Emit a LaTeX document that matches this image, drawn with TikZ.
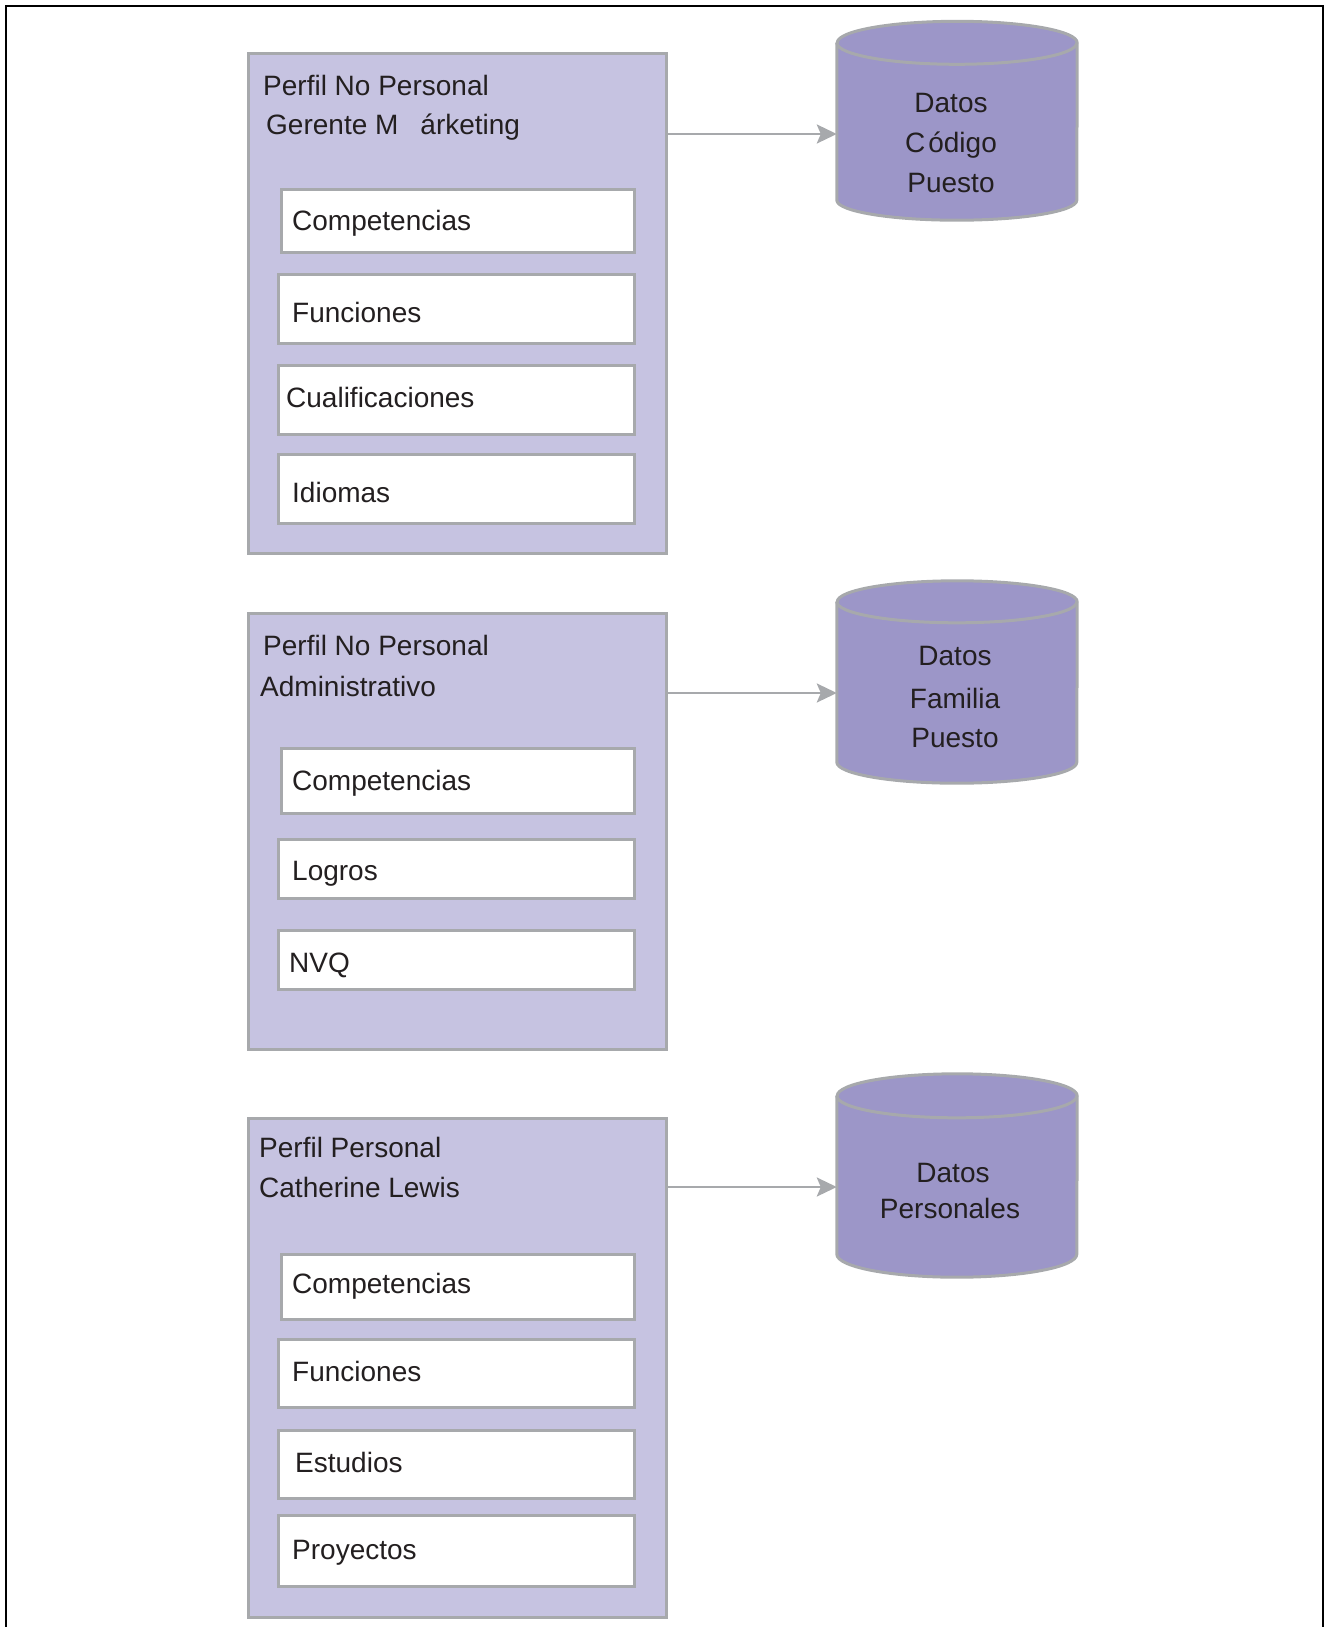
\documentclass[tikz,border=0pt]{standalone}
\usepackage{fontspec}
\setmainfont{Liberation Sans}
\usetikzlibrary{arrows.meta}
\definecolor{panelfill}{HTML}{C6C3E1}
\definecolor{cylfill}{HTML}{9C96C8}
\definecolor{edgegray}{HTML}{A7A9AC}
\definecolor{ink}{HTML}{231F20}
\newcommand\cylpath[3]{%
  \path[fill=cylfill, draw=edgegray, line width=3pt, line join=round]
    (#1.north west) -- (#1.south west)
    arc[start angle=180, end angle=360, x radius=120, y radius=#3]
    -- (#1.north east)
    arc[start angle=0, end angle=180, x radius=120, y radius=#2] -- cycle;
  \draw[edgegray, line width=3pt]
    (#1.north west) arc[start angle=180, end angle=360, x radius=120, y radius=#2];}
\begin{document}
\begin{tikzpicture}[x=1pt, y=1pt,
  panel/.style={draw=edgegray, fill=panelfill, line width=3pt, anchor=north west,
    inner sep=0pt, minimum width=418},
  itembox/.style={draw=edgegray, fill=white, line width=3pt, anchor=north west,
    inner sep=0pt},
  txt/.style={anchor=base west, inner sep=0pt, text=ink, font=\fontsize{28}{34}\selectfont},
  ctxt/.style={anchor=base, inner sep=0pt, text=ink, font=\fontsize{28}{34}\selectfont},
  cylbody/.style={draw=none, inner sep=0pt, minimum width=240},
  arr/.style={draw=edgegray, line width=2.5pt, -{Stealth[length=20pt, width=19pt, inset=4pt]}}]
\useasboundingbox (0,0) rectangle (1332,-1627);
% outer frame
\draw[line width=2.5pt, black, line join=miter] (6,-1627) -- (6,-6) -- (1323,-6) -- (1323,-1627);

% ---------- panel 1
\node[panel, minimum height=500] (p1) at (246.5,-52) {};
\node[txt] (p1t1) at (263,-96) {Perfil No Personal};
\node[txt] (p1t2) at (266,-135) {Gerente M\hspace{22pt}árketing};
\node[itembox, minimum width=353, minimum height=63] (b11) at (279.5,-188) {};
\node[itembox, minimum width=355.5, minimum height=69] (b12) at (277,-273) {};
\node[itembox, minimum width=355.5, minimum height=69] (b13) at (277,-364) {};
\node[itembox, minimum width=355.5, minimum height=69] (b14) at (277,-453) {};
\node[txt] (l11) at (292,-230) {Competencias};
\node[txt] (l12) at (292,-322) {Funciones};
\node[txt] (l13) at (286,-407) {Cualificaciones};
\node[txt] (l14) at (292,-502) {Idiomas};

% ---------- panel 2
\node[panel, minimum height=436.5] (p2) at (246.5,-611.5) {};
\node[txt] (p2t1) at (263,-655) {Perfil No Personal};
\node[txt] (p2t2) at (260,-696) {Administrativo};
\node[itembox, minimum width=353, minimum height=65] (b21) at (279.5,-747) {};
\node[itembox, minimum width=355.5, minimum height=59] (b22) at (277,-838) {};
\node[itembox, minimum width=355.5, minimum height=59] (b23) at (277,-929) {};
\node[txt] (l21) at (292,-790) {Competencias};
\node[txt] (l22) at (292,-880) {Logros};
\node[txt] (l23) at (289,-972) {NVQ};

% ---------- panel 3
\node[panel, minimum height=499.5] (p3) at (246.5,-1116.5) {};
\node[txt] (p3t1) at (259,-1157) {Perfil Personal};
\node[txt] (p3t2) at (259,-1197) {Catherine Lewis};
\node[itembox, minimum width=353, minimum height=65] (b31) at (279.5,-1253) {};
\node[itembox, minimum width=355.5, minimum height=68] (b32) at (277,-1338) {};
\node[itembox, minimum width=355.5, minimum height=68] (b33) at (277,-1429) {};
\node[itembox, minimum width=355.5, minimum height=71] (b34) at (277,-1514) {};
\node[txt] (l31) at (292,-1293) {Competencias};
\node[txt] (l32) at (292,-1381) {Funciones};
\node[txt] (l33) at (295,-1472) {Estudios};
\node[txt] (l34) at (292,-1559) {Proyectos};

% ---------- cylinders
\node[cylbody, minimum height=157] (c1) at (957,-121.5) {};
\cylpath{c1}{21.5}{20}
\node[ctxt] (c1a) at (951,-113) {Datos};
\node[ctxt] (c1b) at (951,-152) {C\hspace{3pt}ódigo};
\node[ctxt] (c1c) at (951,-192) {Puesto};

\node[cylbody, minimum height=160] (c2) at (957,-682) {};
\cylpath{c2}{21}{21}
\node[ctxt] (c2a) at (955,-665) {Datos};
\node[ctxt] (c2b) at (955,-708) {Familia};
\node[ctxt] (c2c) at (955,-747) {Puesto};

\node[cylbody, minimum height=158] (c3) at (957,-1175) {};
\cylpath{c3}{22}{23}
\node[ctxt] (c3a) at (953,-1182) {Datos};
\node[ctxt] (c3b) at (950,-1218) {Personales};

% ---------- connectors
\coordinate (a1) at (0,-134);
\coordinate (a2) at (0,-693);
\coordinate (a3) at (0,-1187);
\draw[arr] (p1.east |- a1) -- (c1.west |- a1);
\draw[arr] (p2.east |- a2) -- (c2.west |- a2);
\draw[arr] (p3.east |- a3) -- (c3.west |- a3);
\end{tikzpicture}
\end{document}
